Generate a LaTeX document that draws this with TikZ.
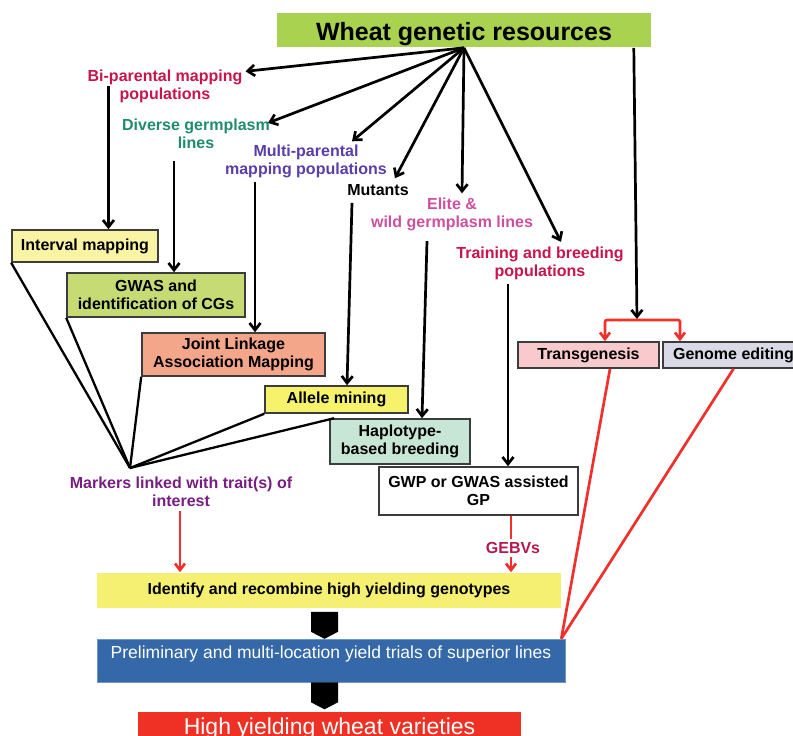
\documentclass[tikz,border=0pt]{standalone}
\usepackage{fontspec}
\setmainfont{Liberation Sans}
\usetikzlibrary{arrows.meta,calc}
\definecolor{titlegreen}{HTML}{A8D24F}
\definecolor{ivyellow}{HTML}{F8F4A4}
\definecolor{gwasgreen}{HTML}{C6DB74}
\definecolor{salmonbox}{HTML}{F4A68B}
\definecolor{alleleyellow}{HTML}{F6F26C}
\definecolor{mintbox}{HTML}{C7E6D6}
\definecolor{pinkbox}{HTML}{F9CACD}
\definecolor{lavbox}{HTML}{DADAE6}
\definecolor{identyellow}{HTML}{F5F071}
\definecolor{prelimblue}{HTML}{3468A8}
\definecolor{highred}{HTML}{EE3124}
\definecolor{boxline}{HTML}{3C3C3C}
\definecolor{redline}{HTML}{F0302A}
\definecolor{crimsonlbl}{HTML}{C8144B}
\definecolor{teallbl}{HTML}{1E8C6E}
\definecolor{purplelbl}{HTML}{5A3CAA}
\definecolor{pinklbl}{HTML}{CD50A0}
\definecolor{markerlbl}{HTML}{781E82}
\definecolor{gebvlbl}{HTML}{B4194F}
\begin{document}
\begin{tikzpicture}[x=1pt,y=-1pt,
  boxnode/.style={draw=boxline, line width=1.6pt, inner sep=2pt, align=center,
    font=\bfseries\fontsize{16}{18}\selectfont, text=black},
  lbl/.style={inner sep=1pt, align=center, font=\bfseries\fontsize{16}{18}\selectfont},
  arr/.style={line width=2.7pt, -{Straight Barb[length=7pt,width=11pt]}},
  redarr/.style={draw=redline, line width=2.7pt, -{Straight Barb[length=6.5pt,width=10pt]}},
  redboth/.style={draw=redline, line width=2.7pt, {Straight Barb[length=6.5pt,width=10pt]}-{Straight Barb[length=6.5pt,width=10pt]}},
  redln/.style={draw=redline, line width=2.7pt},
  fanline/.style={line width=2.3pt}]
\useasboundingbox (0,0) rectangle (793,736);
\clip (0,0) rectangle (793,736);

% boxes
\node[boxnode, draw=none, fill=titlegreen, minimum width=374pt, inner ysep=0pt,
  text height=27pt, text depth=7pt,
  font=\bfseries\fontsize{25}{30}\selectfont] (title) at (464,30) {Wheat genetic resources};
\node[boxnode, fill=ivyellow, minimum width=146pt, minimum height=32pt] (interval) at (85,246) {Interval mapping};
\node[boxnode, fill=gwasgreen, minimum width=178pt, minimum height=44pt] (gwas) at (156,295) {GWAS and\\identification of CGs};
\node[boxnode, fill=salmonbox, minimum width=183pt, minimum height=43pt] (joint) at (233.5,354.5) {Joint Linkage\\Association Mapping};
\node[boxnode, fill=alleleyellow, minimum width=143pt, minimum height=27pt] (allele) at (336.5,399.5) {Allele mining};
\node[boxnode, fill=mintbox, minimum width=140pt, minimum height=45pt] (haplo) at (400,441.5) {Haplotype-\\based breeding};
\node[boxnode, fill=white, minimum width=199pt, minimum height=48pt] (gwp) at (478.5,491) {GWP or GWAS assisted\\GP};
\node[boxnode, fill=pinkbox, minimum width=141pt, minimum height=26pt] (trans) at (588.5,355) {Transgenesis};
\node[boxnode, fill=lavbox, minimum width=141pt, minimum height=26pt] (genome) at (733.5,355) {Genome editing};
\node[boxnode, draw=none, fill=identyellow, minimum width=464pt, minimum height=35pt] (identify) at (329,590.5) {Identify and recombine high yielding genotypes};
\node[boxnode, draw=prelimblue!70!white, line width=0.6pt, fill=prelimblue, text=white,
  font=\fontsize{17.5}{20}\selectfont, minimum width=468pt, minimum height=43pt,
  inner ysep=0pt, text height=19.5pt, text depth=23.5pt] (prelim) at (331,660.5)
  {Preliminary and multi-location yield trials of superior lines};
\node[boxnode, draw=none, fill=highred, text=white, font=\fontsize{23}{26}\selectfont,
  minimum width=383pt, inner ysep=0pt, text height=23pt, text depth=11pt, anchor=north]
  (high) at (329.5,711) {High yielding wheat varieties};

% labels
\node[lbl, text=crimsonlbl] (bip) at (165,86) {Bi-parental mapping\\populations};
\node[lbl, text=teallbl] (div) at (196,134) {Diverse germplasm\\lines};
\node[lbl, text=purplelbl] (multi) at (306,161) {Multi-parental\\mapping populations};
\node[lbl] (mut) at (378,190) {Mutants};
\node[lbl, text=pinklbl] (elite) at (452,214) {Elite \&\\wild germplasm lines};
\node[lbl, text=crimsonlbl] (train) at (540,263.5) {Training and breeding\\populations};
\node[lbl, text=markerlbl] (markers) at (181,492) {Markers linked with trait(s) of\\interest};
\node[lbl, text=gebvlbl, inner sep=3pt] (gebv) at (513,548) {GEBVs};

% fan from title
\draw[arr] (title.south) -- ($(bip.north east)+(2,3)$);
\draw[arr] (title.south) -- ($(div.north east)+(-3,5)$);
\draw[arr] (title.south) -- ($(multi.north)+(46,-2)$);
\draw[arr] (title.south) -- ($(mut.north)+(17,-5)$);
\draw[arr] (title.south) -- ($(elite.north)+(10,-3)$);
\draw[arr] (title.south) -- ($(train.north)+(21,-4)$);

% right branch
\coordinate (split) at (637,320);
\draw[arr] ($(title.south east)+(-18,0)$) -- ($(split)+(0,-1)$);
\draw[redboth, rounded corners=2pt] ($(trans.north)+(16.5,0)$) |- (split) -| ($(genome.north)+(-53.5,0)$);

% vertical arrows
\coordinate (bipout) at ($(bip.west)+(22,0)$);
\draw[arr] (bipout) -- (bipout |- interval.north);
\coordinate (divout) at ($(div.south)+(-22,11)$);
\draw[arr] (divout) -- (divout |- gwas.north);
\coordinate (multiout) at ($(multi.south)+(-51,3.5)$);
\draw[arr] (multiout) -- (multiout |- joint.north);
\draw[arr] ($(mut.south)+(-26,6)$) -- ($(allele.north)+(10.5,0)$);
\draw[arr] ($(elite.south)+(-25,9.5)$) -- ($(haplo.north)+(22,0)$);
\coordinate (trainout) at ($(train.south)+(-32,3)$);
\draw[arr] (trainout) -- (trainout |- gwp.north);

% converging lines to markers
\coordinate (conv) at (130,468);
\draw[fanline] (interval.south west) -- (conv);
\draw[fanline] (gwas.south west) -- (conv);
\draw[fanline] (joint.south west) -- (conv);
\draw[fanline] (allele.south west) -- (conv);
\draw[fanline] ($(haplo.north west)+(5,0)$) -- (conv);

% red connectors
\coordinate (mkout) at ($(markers.south)+(-1,3)$);
\draw[redarr] (mkout) -- (mkout |- identify.north);
\coordinate (gpout) at ($(gwp.south)+(32.5,0)$);
\draw[redln] (gpout) -- (gpout |- gebv.north);
\draw[redarr] (gpout |- gebv.south) -- (gpout |- identify.north);
\draw[redln] ($(trans.south)+(21.5,0)$) -- ($(prelim.north east)+(-4,0)$);
\draw[redln] (genome.south) -- ($(prelim.north east)+(-4,0)$);

% block arrows
\fill[black] ($(identify.south)+(-18,3)$) -- ++(27,0) -- ++(0,20) -- ++(-13.5,7) -- ++(-13.5,-7) -- cycle;
\fill[black] ($(prelim.south)+(-20,0)$) -- ++(27,0) -- ++(0,20) -- ++(-13.5,7) -- ++(-13.5,-7) -- cycle;
\end{tikzpicture}
\end{document}
